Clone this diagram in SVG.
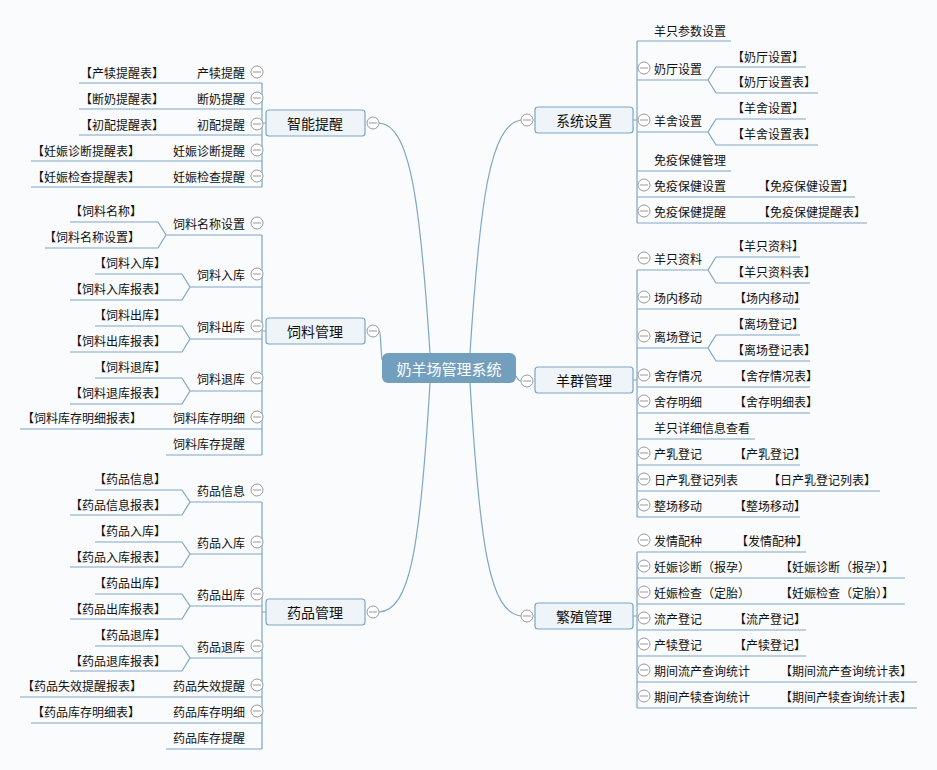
<svg xmlns="http://www.w3.org/2000/svg" width="937" height="770" viewBox="0 0 937 770">
<style>
text{font-family:"Noto Sans CJK SC","Liberation Sans",sans-serif;font-size:12px;fill:#111;dominant-baseline:central}
.e{text-anchor:end}
.l{fill:none;stroke:#7ea6c6;stroke-width:1.2}
.b{fill:#eef4f8;stroke:#7ea6c6;stroke-width:1.2}
.c{fill:#fff;stroke:#999;stroke-width:1}
.bt{font-size:14px;text-anchor:middle}
</style>
<defs>
<g id="cc"><circle class="c" r="6"/><line x1="-4" x2="4" stroke="#999"/></g>
</defs>
<rect width="937" height="770" fill="#fafbfc"/>
<g id="connectors">
<path class="l" d="M470 353 C480 200 490 125 521 120"/>
<path class="l" d="M516 376 C518 380 519 381 521 381"/>
<path class="l" d="M470 383 C480 550 490 612 521 616"/>
<path class="l" d="M430 353 C420 200 410 125 379 123"/>
<path class="l" d="M382 360 C380 340 381 331 379 331"/>
<path class="l" d="M430 383 C420 550 410 610 379 612"/>
<!-- right verticals -->
<path class="l" d="M637 41 V223 M633 120 H637"/>
<path class="l" d="M637 270 V517 M633 380 H637"/>
<path class="l" d="M637 552 V708 M633 616 H637"/>
<!-- left verticals -->
<path class="l" d="M262 83 V187 M266 123 H262"/>
<path class="l" d="M262 235 V455 M266 331 H262"/>
<path class="l" d="M262 502 V749 M266 612 H262"/>
<!-- right underlines -->
<path class="l" d="M637 41 H731 M637 80 H708 M806 67 H716 L708 80 L716 93 H818 M637 132 H708 M806 119 H716 L708 132 L716 145 H818 M637 171 H731 M637 197 H855 M637 223 H867"/>
<path class="l" d="M637 270 H708 M800 257 H716 L708 270 L716 283 H810 M637 309 H800 M637 348 H708 M800 335 H716 L708 348 L716 361 H810 M637 387 H810 M637 413 H810 M637 439 H755 M637 465 H800 M637 491 H880 M637 517 H800"/>
<path class="l" d="M637 552 H806 M637 578 H905 M637 604 H905 M637 630 H806 M637 656 H806 M637 682 H917 M637 708 H917"/>
<!-- left underlines -->
<path class="l" d="M79 83 H262 M79 109 H262 M79 135 H262 M31 161 H262 M31 187 H262"/>
<path class="l" d="M166 235 H262 M70 222 H158 L166 235 L158 248 H45 M190 287 H262 M95 274 H182 L190 287 L182 300 H70 M190 339 H262 M95 326 H182 L190 339 L182 352 H70 M190 391 H262 M95 378 H182 L190 391 L182 404 H70 M20 429 H262 M166 455 H262"/>
<path class="l" d="M190 502 H262 M95 490 H182 L190 502 L182 515 H70 M190 554 H262 M95 542 H182 L190 554 L182 567 H70 M190 606 H262 M95 594 H182 L190 606 L182 619 H70 M190 658 H262 M95 646 H182 L190 658 L182 671 H70 M20 697 H262 M31 723 H262 M166 749 H262"/>
</g>
<g id="root"><rect x="382" y="353" width="134" height="30" rx="6" fill="#739fbf"/><text x="449" y="368" style="fill:#fff;font-size:15px;text-anchor:middle">奶羊场管理系统</text></g>
<g id="n-xtsz"><rect class="b" x="535" y="107" width="98" height="26" rx="3"/><text class="bt" x="584" y="120">系统设置</text><use href="#cc" x="527" y="120"/></g>
<g id="n-yqgl"><rect class="b" x="535" y="367" width="98" height="26" rx="3"/><text class="bt" x="584" y="380">羊群管理</text><use href="#cc" x="527" y="381"/></g>
<g id="n-fzgl"><rect class="b" x="535" y="603" width="98" height="26" rx="3"/><text class="bt" x="584" y="616">繁殖管理</text><use href="#cc" x="527" y="616"/></g>
<g id="n-zntx"><rect class="b" x="266" y="110" width="99" height="26" rx="3"/><text class="bt" x="315" y="123">智能提醒</text><use href="#cc" x="373" y="123"/></g>
<g id="n-slgl"><rect class="b" x="266" y="318" width="99" height="26" rx="3"/><text class="bt" x="315" y="331">饲料管理</text><use href="#cc" x="373" y="331"/></g>
<g id="n-ypgl"><rect class="b" x="266" y="599" width="99" height="26" rx="3"/><text class="bt" x="315" y="612">药品管理</text><use href="#cc" x="373" y="612"/></g>
<g id="sys-items">
<text x="654" y="30">羊只参数设置</text>
<use href="#cc" x="644" y="68"/><text x="654" y="68">奶厅设置</text><text x="732" y="56">【奶厅设置】</text><text x="732" y="81">【奶厅设置表】</text>
<use href="#cc" x="644" y="120"/><text x="654" y="120">羊舍设置</text><text x="732" y="107">【羊舍设置】</text><text x="732" y="133">【羊舍设置表】</text>
<text x="654" y="159">免疫保健管理</text>
<use href="#cc" x="644" y="185"/><text x="654" y="185">免疫保健设置</text><text x="758" y="185">【免疫保健设置】</text>
<use href="#cc" x="644" y="211"/><text x="654" y="211">免疫保健提醒</text><text x="758" y="211">【免疫保健提醒表】</text>
</g>
<g id="herd-items">
<use href="#cc" x="644" y="258"/><text x="654" y="258">羊只资料</text><text x="732" y="245">【羊只资料】</text><text x="732" y="271">【羊只资料表】</text>
<use href="#cc" x="644" y="297"/><text x="654" y="297">场内移动</text><text x="734" y="297">【场内移动】</text>
<use href="#cc" x="644" y="336"/><text x="654" y="336">离场登记</text><text x="732" y="323">【离场登记】</text><text x="732" y="349">【离场登记表】</text>
<use href="#cc" x="644" y="375"/><text x="654" y="375">舍存情况</text><text x="734" y="375">【舍存情况表】</text>
<use href="#cc" x="644" y="401"/><text x="654" y="401">舍存明细</text><text x="734" y="401">【舍存明细表】</text>
<text x="654" y="427">羊只详细信息查看</text>
<use href="#cc" x="644" y="453"/><text x="654" y="453">产乳登记</text><text x="734" y="453">【产乳登记】</text>
<use href="#cc" x="644" y="479"/><text x="654" y="479">日产乳登记列表</text><text x="768" y="479">【日产乳登记列表】</text>
<use href="#cc" x="644" y="505"/><text x="654" y="505">整场移动</text><text x="734" y="505">【整场移动】</text>
</g>
<g id="breed-items">
<use href="#cc" x="644" y="540"/><text x="654" y="540">发情配种</text><text x="736" y="540">【发情配种】</text>
<use href="#cc" x="644" y="566"/><text x="654" y="566">妊娠诊断（报孕）</text><text x="780" y="566">【妊娠诊断（报孕）】</text>
<use href="#cc" x="644" y="592"/><text x="654" y="592">妊娠检查（定胎）</text><text x="780" y="592">【妊娠检查（定胎）】</text>
<use href="#cc" x="644" y="618"/><text x="654" y="618">流产登记</text><text x="734" y="618">【流产登记】</text>
<use href="#cc" x="644" y="644"/><text x="654" y="644">产犊登记</text><text x="734" y="644">【产犊登记】</text>
<use href="#cc" x="644" y="670"/><text x="654" y="670">期间流产查询统计</text><text x="780" y="670">【期间流产查询统计表】</text>
<use href="#cc" x="644" y="696"/><text x="654" y="696">期间产犊查询统计</text><text x="780" y="696">【期间产犊查询统计表】</text>
</g>
<g id="remind-items">
<use href="#cc" x="257" y="72"/><text class="e" x="245" y="72">产犊提醒</text><text class="e" x="164" y="72">【产犊提醒表】</text>
<use href="#cc" x="257" y="98"/><text class="e" x="245" y="98">断奶提醒</text><text class="e" x="164" y="98">【断奶提醒表】</text>
<use href="#cc" x="257" y="124"/><text class="e" x="245" y="124">初配提醒</text><text class="e" x="164" y="124">【初配提醒表】</text>
<use href="#cc" x="257" y="150"/><text class="e" x="245" y="150">妊娠诊断提醒</text><text class="e" x="140" y="150">【妊娠诊断提醒表】</text>
<use href="#cc" x="257" y="176"/><text class="e" x="245" y="176">妊娠检查提醒</text><text class="e" x="140" y="176">【妊娠检查提醒表】</text>
</g>
<g id="feed-items">
<use href="#cc" x="257" y="223"/><text class="e" x="245" y="223">饲料名称设置</text><text class="e" x="142" y="210">【饲料名称】</text><text class="e" x="140" y="236">【饲料名称设置】</text>
<use href="#cc" x="257" y="274"/><text class="e" x="245" y="274">饲料入库</text><text class="e" x="166" y="262">【饲料入库】</text><text class="e" x="166" y="288">【饲料入库报表】</text>
<use href="#cc" x="257" y="326"/><text class="e" x="245" y="326">饲料出库</text><text class="e" x="166" y="314">【饲料出库】</text><text class="e" x="166" y="340">【饲料出库报表】</text>
<use href="#cc" x="257" y="378"/><text class="e" x="245" y="378">饲料退库</text><text class="e" x="166" y="366">【饲料退库】</text><text class="e" x="166" y="392">【饲料退库报表】</text>
<use href="#cc" x="257" y="417"/><text class="e" x="245" y="417">饲料库存明细</text><text class="e" x="142" y="417">【饲料库存明细报表】</text>
<text class="e" x="245" y="443">饲料库存提醒</text>
</g>
<g id="drug-items">
<use href="#cc" x="257" y="490"/><text class="e" x="245" y="490">药品信息</text><text class="e" x="166" y="478">【药品信息】</text><text class="e" x="166" y="504">【药品信息报表】</text>
<use href="#cc" x="257" y="542"/><text class="e" x="245" y="542">药品入库</text><text class="e" x="166" y="530">【药品入库】</text><text class="e" x="166" y="556">【药品入库报表】</text>
<use href="#cc" x="257" y="594"/><text class="e" x="245" y="594">药品出库</text><text class="e" x="166" y="582">【药品出库】</text><text class="e" x="166" y="608">【药品出库报表】</text>
<use href="#cc" x="257" y="646"/><text class="e" x="245" y="646">药品退库</text><text class="e" x="166" y="634">【药品退库】</text><text class="e" x="166" y="660">【药品退库报表】</text>
<use href="#cc" x="257" y="685"/><text class="e" x="245" y="685">药品失效提醒</text><text class="e" x="142" y="685">【药品失效提醒报表】</text>
<use href="#cc" x="257" y="711"/><text class="e" x="245" y="711">药品库存明细</text><text class="e" x="140" y="711">【药品库存明细表】</text>
<text class="e" x="245" y="737">药品库存提醒</text>
</g>
</svg>
